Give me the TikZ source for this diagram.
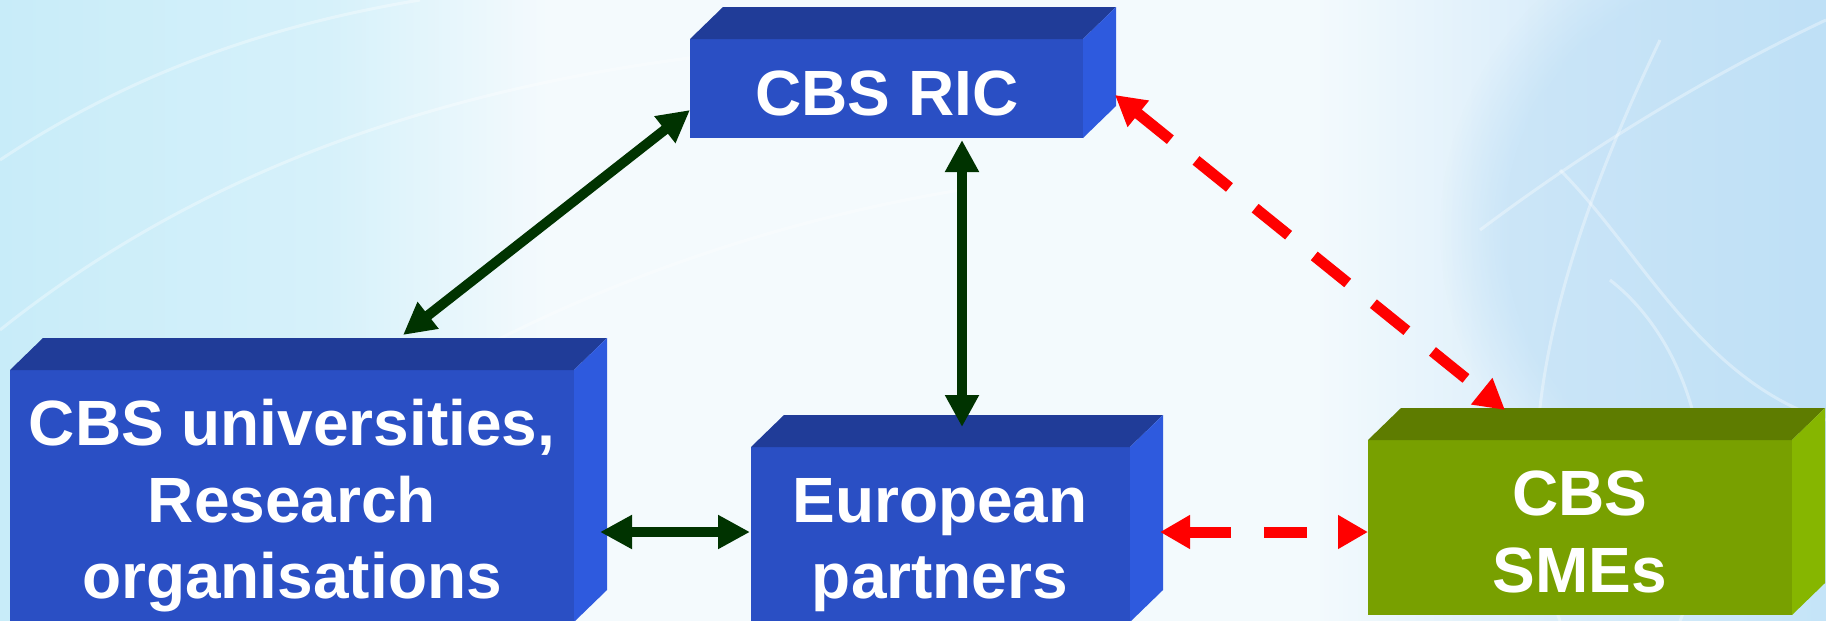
\documentclass[tikz,border=0pt]{standalone}
\usepackage{fontspec}
\setmainfont{Liberation Sans}
\usetikzlibrary{arrows.meta,calc,fadings}
\definecolor{bfront}{RGB}{42,79,196}
\definecolor{btop}{RGB}{32,60,152}
\definecolor{bside}{RGB}{46,90,222}
\definecolor{gfront}{RGB}{120,160,0}
\definecolor{gtop}{RGB}{94,124,0}
\definecolor{gside}{RGB}{134,182,0}
\definecolor{dgreen}{RGB}{0,51,0}
\definecolor{bga}{RGB}{200,236,249}
\definecolor{bgb}{RGB}{214,241,250}
\definecolor{bgc}{RGB}{244,250,253}
\definecolor{bgd}{RGB}{243,250,253}
\definecolor{bge}{RGB}{216,236,250}
\definecolor{bgf}{RGB}{196,228,248}
\definecolor{bgblob}{RGB}{186,221,245}
\pgfdeclarehorizontalshading{bgshade}{100bp}{color(0bp)=(bga); color(25bp)=(bga); color(34bp)=(bgb); color(40bp)=(bgc); color(61bp)=(bgd); color(68bp)=(bge); color(75bp)=(bgf); color(100bp)=(bgf)}
\tikzset{
  facebox/.style={rectangle, inner sep=0pt, outer sep=0pt, draw=none, anchor=north west},
  bluebox/.style={facebox, fill=bfront},
  greenbox/.style={facebox, fill=gfront},
  lbl/.style={inner sep=0pt, text=white, font=\fontsize{64}{77}\selectfont\bfseries, anchor=base},
  garrow/.style={draw=dgreen, line width=10pt, {Triangle[length=32pt,width=32pt]}-{Triangle[length=32pt,width=32pt]}},
  rarrow/.style={draw=red, line width=11pt, dash pattern=on 43pt off 33pt, {Triangle[length=30pt,width=32pt]}-{Triangle[length=30pt,width=32pt]}},
  swirl/.style={draw=white, opacity=0.35, line width=3pt}
}
\newcommand{\boxfaces}[3]{%
  \fill[#2] (#1.north west) -- ++(33pt,32pt) -- ([shift={(33pt,32pt)}]#1.north east) -- (#1.north east) -- cycle;
  \fill[#3] (#1.north east) -- ++(33pt,32pt) -- ([shift={(33pt,32pt)}]#1.south east) -- (#1.south east) -- cycle;
}
\begin{document}
\begin{tikzpicture}[x=1pt,y=-1pt]
\useasboundingbox (0,0) rectangle (1826,621);
\clip (0,0) rectangle (1826,621);
% background
\shade[shading=bgshade] (0,0) rectangle (1826,621);
\fill[bgblob, opacity=0.5, path fading=circle with fuzzy edge 20 percent] (1760,230) circle [radius=320pt];
\draw[swirl] (0,330) .. controls (200,170) and (450,80) .. (760,50);
\draw[swirl] (120,621) .. controls (300,420) and (600,250) .. (960,190);
\draw[swirl] (0,160) .. controls (150,60) and (300,20) .. (420,0);
\draw[swirl] (1480,230) .. controls (1600,140) and (1720,70) .. (1826,20);
\draw[swirl] (1560,621) .. controls (1500,450) and (1560,250) .. (1660,40);
\draw[swirl] (1826,420) .. controls (1700,380) and (1640,250) .. (1560,170);
\draw[swirl] (1680,621) .. controls (1730,500) and (1700,350) .. (1610,280);
% boxes
\node[bluebox, minimum width=393pt, minimum height=99pt] (ric) at (690,39) {};
\boxfaces{ric}{btop}{bside}
\node[bluebox, minimum width=564pt, minimum height=252pt] (uni) at (10,370) {};
\boxfaces{uni}{btop}{bside}
\node[bluebox, minimum width=379pt, minimum height=175pt] (eur) at (751,447) {};
\boxfaces{eur}{btop}{bside}
\node[greenbox, minimum width=424pt, minimum height=175pt] (sme) at (1368,440) {};
\boxfaces{sme}{gtop}{gside}
% labels
\node[lbl] (ric-t) at (887,115) {CBS RIC};
\node[lbl] (uni-t1) at (292,445) {CBS universities,};
\node[lbl] (uni-t2) at (292,522) {Research};
\node[lbl] (uni-t3) at (292,598) {organisations};
\node[lbl] (eur-t1) at (940,522) {European};
\node[lbl] (eur-t2) at (940,598) {partners};
\node[lbl] (sme-t1) at (1580,515) {CBS};
\node[lbl] (sme-t2) at (1580,592) {SMEs};
% connectors
\draw[garrow] ([yshift=28pt]ric.south west) -- ([xshift=393pt,yshift=35pt]uni.north west);
\draw[garrow] ([xshift=75.5pt,yshift=-2pt]ric.south) -- ([xshift=21.5pt,yshift=20pt]eur.north);
\draw[garrow] ([xshift=26pt,yshift=-36pt]uni.east) -- ([xshift=-1pt,yshift=2.5pt]eur.west);
\draw[rarrow] ([xshift=30pt,yshift=2.5pt]eur.east) -- ([yshift=-4.5pt]sme.west);
\draw[rarrow] ([xshift=32pt,yshift=-56pt]ric.north east) -- ([xshift=137pt,yshift=30pt]sme.north west);
\end{tikzpicture}
\end{document}
